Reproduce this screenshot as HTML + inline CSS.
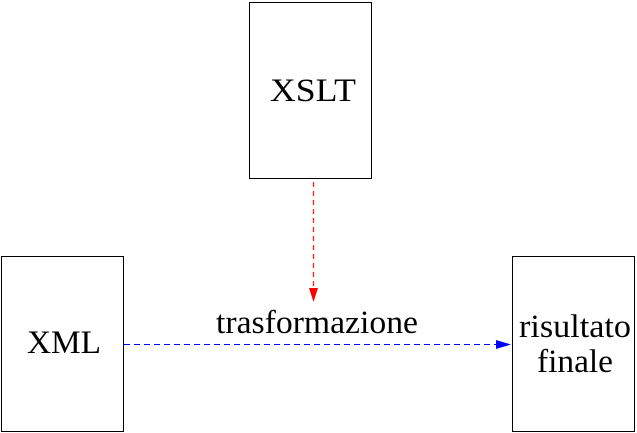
<!DOCTYPE html>
<html><head><meta charset="utf-8"><style>html,body{margin:0;padding:0;background:#fff}svg{display:block}</style></head>
<body>
<svg width="637" height="433" viewBox="0 0 637 433" xmlns="http://www.w3.org/2000/svg" font-family="Liberation Serif, serif" font-size="33" fill="#000">
<rect x="249.5" y="2.5" width="122" height="176" fill="none" stroke="#000" stroke-width="1"/>
<rect x="1.5" y="256.5" width="122" height="175" fill="none" stroke="#000" stroke-width="1"/>
<rect x="512.5" y="256.5" width="122" height="175" fill="none" stroke="#000" stroke-width="1"/>
<text x="270" y="101" textLength="86" lengthAdjust="spacingAndGlyphs">XSLT</text>
<text x="27" y="353" textLength="74" lengthAdjust="spacingAndGlyphs">XML</text>
<text x="519" y="337" textLength="112" lengthAdjust="spacingAndGlyphs">risultato</text>
<text x="537" y="372" textLength="76" lengthAdjust="spacingAndGlyphs">finale</text>
<text x="216" y="333" textLength="202" lengthAdjust="spacingAndGlyphs">trasformazione</text>
<line x1="313.5" y1="182" x2="313.5" y2="290" stroke="#ff2020" stroke-width="1.3" stroke-dasharray="5,4"/>
<polygon points="309,288 318,288 313.5,302" fill="#f00"/>
<line x1="124" y1="344.5" x2="498" y2="344.5" stroke="#00f" stroke-width="1" stroke-dasharray="6,4"/>
<polygon points="496,340 496,349 511,344.5" fill="#00f"/>
</svg>
</body></html>
